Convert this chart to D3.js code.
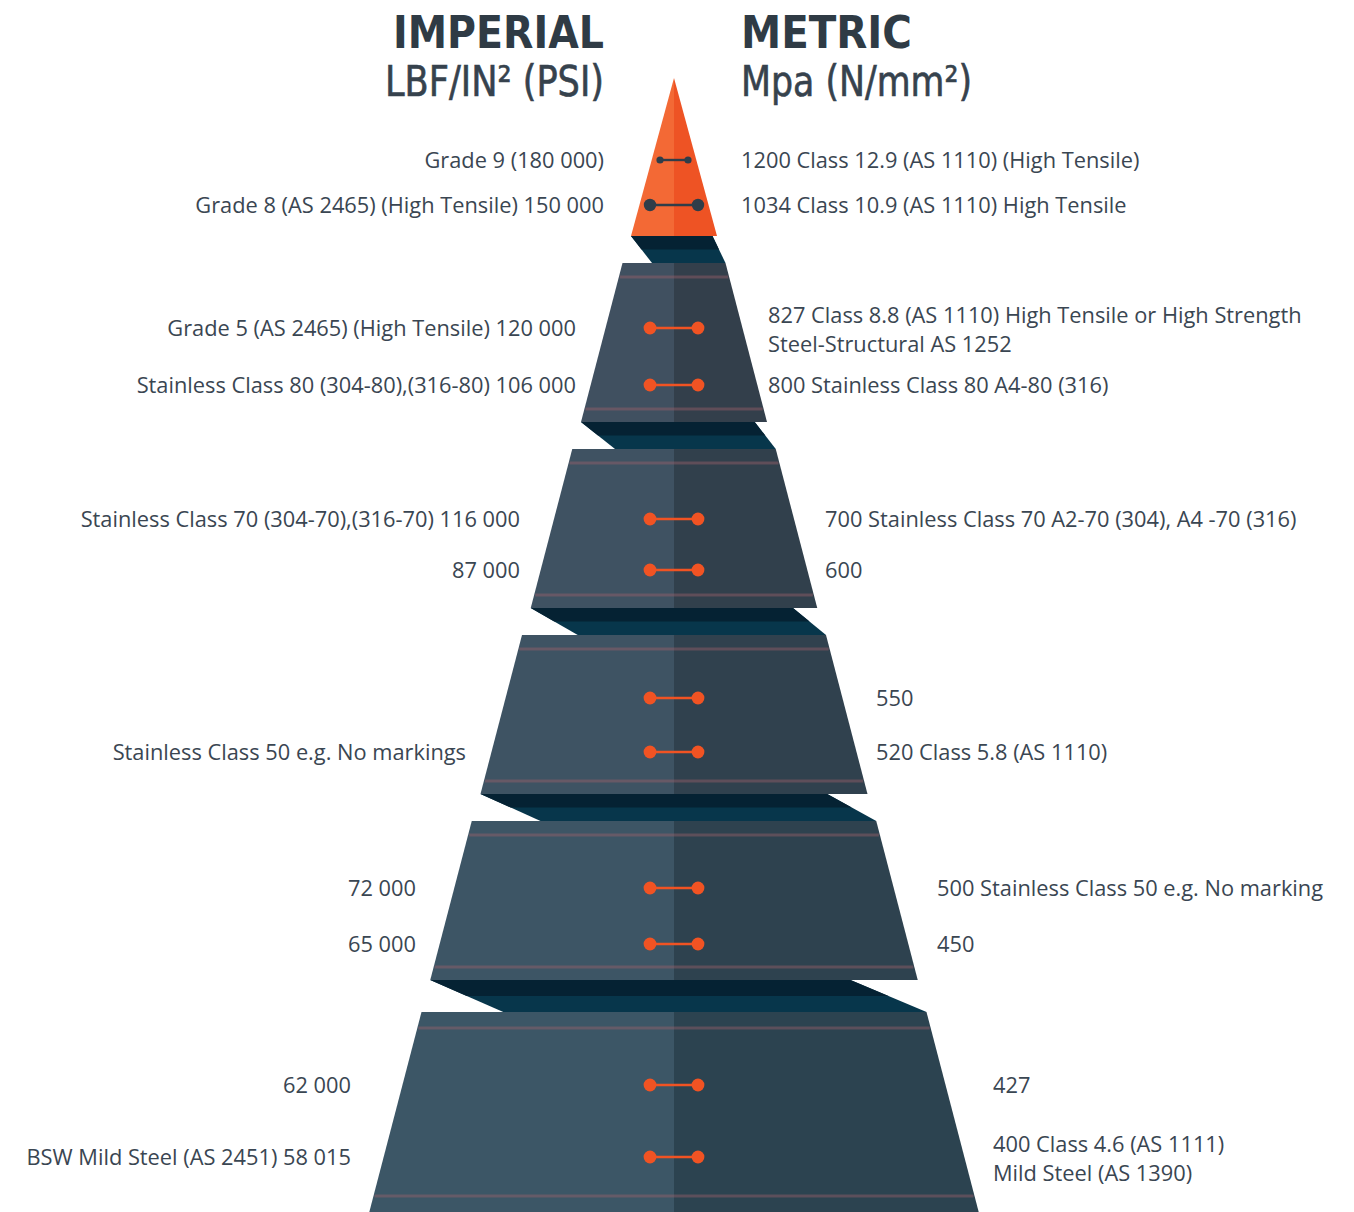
<!DOCTYPE html>
<html><head><meta charset="utf-8">
<script src="https://cdn.jsdelivr.net/npm/d3@7"></script>
<style>body{margin:0;background:#fff}svg{display:block}</style>
</head><body>
<script>
// ---------- DATA ----------
const titles = ["IMPERIAL", "METRIC"];
const subtitles = ["LBF/IN² (PSI)", "Mpa (N/mm²)"];
const tierNames = ["Cone", "Tier 1", "Tier 2", "Tier 3", "Tier 4", "Tier 5"];
const rowTier = [0, 0, 1, 1, 2, 2, 3, 3, 4, 4, 5, 5];
const psiValues = [180000, 150000, 120000, 106000, 116000, 87000, null, null, 72000, 65000, 62000, 58015];
const mpaValues = [1200, 1034, 827, 800, 700, 600, 550, 520, 500, 450, 427, 400];
const psiLabels = [
  "Grade 9 (180 000)",
  "Grade 8 (AS 2465) (High Tensile) 150 000",
  "Grade 5 (AS 2465) (High Tensile) 120 000",
  "Stainless Class 80 (304-80),(316-80) 106 000",
  "Stainless Class 70 (304-70),(316-70) 116 000",
  "87 000",
  "",
  "Stainless Class 50 e.g. No markings",
  "72 000",
  "65 000",
  "62 000",
  "BSW Mild Steel (AS 2451) 58 015"
];
const mpaLabels = [
  ["1200 Class 12.9 (AS 1110) (High Tensile)"],
  ["1034 Class 10.9 (AS 1110) High Tensile"],
  ["827 Class 8.8 (AS 1110) High Tensile or High Strength", "Steel-Structural AS 1252"],
  ["800 Stainless Class 80 A4-80 (316)"],
  ["700 Stainless Class 70 A2-70 (304), A4 -70 (316)"],
  ["600"],
  ["550"],
  ["520 Class 5.8 (AS 1110)"],
  ["500 Stainless Class 50 e.g. No marking"],
  ["450"],
  ["427"],
  ["400 Class 4.6 (AS 1111)", "Mild Steel (AS 1390)"]
];

// ---------- LAYOUT ----------
const W = 1354, H = 1212, cx = 674;
const coneTop = 78, coneBase = 236, coneHalf = 43;
const tierStep = 186, tierH = [0, 159, 159, 159, 159, 200];
const lastExtra = 5;
const rowOffsets = [[82, 127], [65, 122], [70, 121], [63, 117], [67, 123], [73, 145]];
const labelGapL = [70, 98, 154, 208, 258, 323];
const labelGapR = [67, 94, 151, 202, 263, 319];
const connDL = [21, 34, 47, 60, 73];
const connDR = [13, 21, 33, 49, 76];
const slope = 0.261;

const tierTopScale = d3.scaleLinear().domain([1, 5]).range([263, 263 + 4 * tierStep]);
const tierTop = i => i === 0 ? coneTop : tierTopScale(i) + (i === 5 ? lastExtra : 0);
const tierBot = i => i === 0 ? coneBase : tierTop(i) + tierH[i];
const halfTop = d3.scaleLinear().domain([1, 5]).range([51.5, 252.5]);
const halfAt = (i, y) => i === 0 ? coneHalf * (y - coneTop) / (coneBase - coneTop) : halfTop(i) + slope * (y - tierTop(i));
const rowY = r => tierTop(rowTier[r]) + rowOffsets[rowTier[r]][r % 2];

const leftColor = d3.scaleLinear().domain([1, 5]).range(["#405060", "#3c5666"]);
const rightColor = d3.scaleLinear().domain([1, 5]).range(["#333f4b", "#2c4350"]);

const svg = d3.select("body").append("svg").attr("width", W).attr("height", H);
const line = d3.line();

// connectors
for (let i = 1; i <= 5; i++) {
  const b = tierBot(i - 1), t = tierTop(i);
  const L1 = cx - halfAt(i - 1, b);
  const R2 = cx + halfAt(i, t);
  const cL = L1 + connDL[i - 1];
  const cR = R2 - connDR[i - 1];
  const m = (b + t) / 2;
  const lerp = (a, c) => (a + c) / 2;
  svg.append("path").attr("d", line([[L1, b], [cR, b], [R2, t], [cL, t]]) + "Z").attr("fill", "#07364b");
  svg.append("path").attr("d", line([[L1, b], [cR, b], [lerp(cR, R2), m], [lerp(L1, cL), m]]) + "Z").attr("fill", "#052233");
}

// tiers
for (let i = 1; i <= 5; i++) {
  const t = tierTop(i), b = tierBot(i);
  const ht = halfAt(i, t), hb = halfAt(i, b);
  svg.append("path").attr("d", line([[cx - ht, t], [cx, t], [cx, b], [cx - hb, b]]) + "Z").attr("fill", leftColor(i));
  svg.append("path").attr("d", line([[cx, t], [cx + ht, t], [cx + hb, b], [cx, b]]) + "Z").attr("fill", rightColor(i));
  const stripes = [t + (i === 5 ? 16 : 14), i === 5 ? 1196 : b - 13];
  stripes.forEach(y => {
    const h = halfAt(i, y);
    svg.append("line").attr("x1", cx - h + 1).attr("x2", cx + h - 1).attr("y1", y).attr("y2", y)
      .attr("stroke", "rgba(160,98,108,0.42)").attr("stroke-width", 3);
  });
}

// cone
svg.append("path").attr("d", line([[cx, coneTop], [cx, coneBase], [cx - coneHalf, coneBase]]) + "Z").attr("fill", "#f36935");
svg.append("path").attr("d", line([[cx, coneTop], [cx + coneHalf, coneBase], [cx, coneBase]]) + "Z").attr("fill", "#ee5324");

// dots
const dotR = [3.6, 6.2, 6.4, 6.4, 6.4, 6.4, 6.4, 6.4, 6.4, 6.4, 6.4, 6.4];
const dotDx = [14, 24, 24, 24, 24, 24, 24, 24, 24, 24, 24, 24];
mpaValues.forEach((v, r) => {
  const y = rowY(r);
  const col = rowTier[r] === 0 ? "#2f3d49" : "#f15323";
  const g = svg.append("g");
  g.append("line").attr("x1", cx - dotDx[r]).attr("x2", cx + dotDx[r]).attr("y1", y).attr("y2", y)
    .attr("stroke", col).attr("stroke-width", 2.4);
  [-1, 1].forEach(s => g.append("circle").attr("cx", cx + s * dotDx[r]).attr("cy", y).attr("r", dotR[r]).attr("fill", col));
});

// labels
const FONT = "'Open Sans', 'Noto Sans', sans-serif";
const txtCol = "#3a4652";
const probe = svg.append("text").attr("font-family", FONT).attr("font-size", 20).text(psiLabels[2]);
const fs = 20 * 409 / probe.node().getComputedTextLength();
probe.remove();

psiLabels.forEach((lab, r) => {
  const tr = rowTier[r];
  svg.append("text").attr("x", cx - labelGapL[tr]).attr("y", rowY(r)).attr("dy", "0.35em")
    .attr("text-anchor", "end").attr("font-family", FONT).attr("font-size", fs).attr("fill", txtCol).text(lab);
});
mpaLabels.forEach((lines, r) => {
  const tr = rowTier[r];
  const n = lines.length, lh = 29;
  lines.forEach((ln, k) => {
    svg.append("text").attr("x", cx + labelGapR[tr]).attr("y", rowY(r) + (k - (n - 1) / 2) * lh + (n > 1 ? 1.5 : 0)).attr("dy", "0.35em")
      .attr("font-family", FONT).attr("font-size", fs).attr("fill", txtCol).text(ln);
  });
});

// titles
const TFONT = "'DejaVu Sans Condensed', 'DejaVu Sans', sans-serif";
svg.append("text").attr("x", 604).attr("y", 48).attr("text-anchor", "end").attr("font-family", TFONT)
  .attr("font-weight", "bold").attr("font-size", 45).attr("fill", "#2f3b45")
  .attr("textLength", 211).attr("lengthAdjust", "spacingAndGlyphs").text(titles[0]);
svg.append("text").attr("x", 741).attr("y", 48).attr("font-family", TFONT)
  .attr("font-weight", "bold").attr("font-size", 45).attr("fill", "#2f3b45")
  .attr("textLength", 171).attr("lengthAdjust", "spacingAndGlyphs").text(titles[1]);
svg.append("text").attr("x", 604).attr("y", 96).attr("text-anchor", "end").attr("font-family", TFONT)
  .attr("font-size", 42).attr("fill", "#36424d").attr("stroke", "#36424d").attr("stroke-width", 0.6)
  .attr("textLength", 219).attr("lengthAdjust", "spacingAndGlyphs").text(subtitles[0]);
svg.append("text").attr("x", 741).attr("y", 96).attr("font-family", TFONT)
  .attr("font-size", 42).attr("fill", "#36424d").attr("stroke", "#36424d").attr("stroke-width", 0.6)
  .attr("textLength", 231).attr("lengthAdjust", "spacingAndGlyphs").text(subtitles[1]);
</script>
</body></html>
